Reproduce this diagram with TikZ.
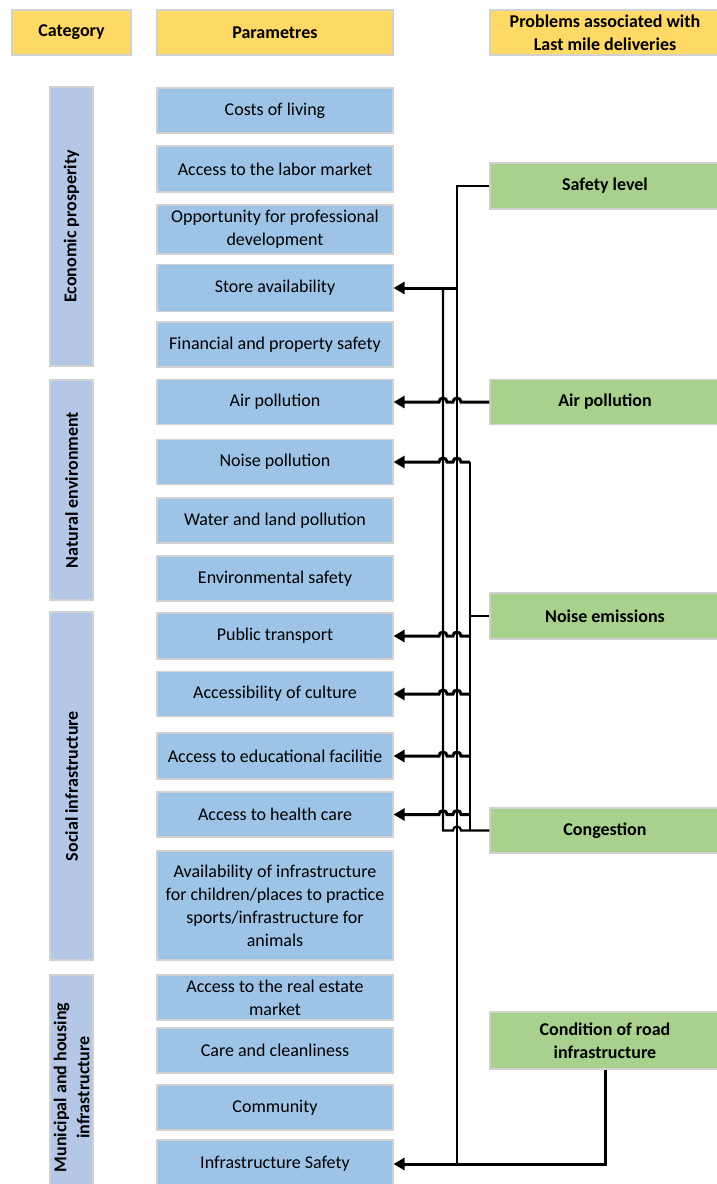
\documentclass[tikz,border=0pt]{standalone}
\usepackage{fontspec}
\setmainfont{Carlito}
\usepackage{xcolor}
\usepackage{tikz}
\usetikzlibrary{arrows.meta,calc}

\definecolor{headyellow}{HTML}{FFD966}
\definecolor{parblue}{HTML}{9DC3E6}
\definecolor{catviolet}{HTML}{B4C7E7}
\definecolor{probgreen}{HTML}{A9D18E}

\begin{document}
\begin{tikzpicture}[x=1pt,y=-1pt,
    font=\fontsize{18}{23}\selectfont,
    box/.style={draw=black!18, line width=1.2pt, inner sep=2pt, align=center},
    head/.style={box, fill=headyellow, font=\fontsize{18}{23}\selectfont\bfseries, minimum height=45},
    catbox/.style={box, fill=catviolet, rotate=90, minimum height=43, font=\fontsize{18}{23}\selectfont\bfseries},
    parbox/.style={box, fill=parblue, minimum width=236},
    probbox/.style={box, fill=probgreen, minimum width=230, font=\fontsize{18}{23}\selectfont\bfseries},
    bus/.style={line width=2.2pt},
    feed/.style={line width=3pt, -{Triangle[length=11pt,width=12pt]}}
    ]
    \useasboundingbox (0,0) rectangle (717,1184);

    % headers
    \node[head, minimum width=119] (hcat) at (71.5,32.5) {Category};
    \node[head, minimum width=236] (hpar) at (275,32.5) {Parametres};
    \node[head, minimum width=230] (hprob) at (605,32.5) {Problems associated with\\Last mile deliveries};

    % categories
    \node[catbox, minimum width=279] (econ) at (71.5,226.5) {Economic prosperity};
    \node[catbox, minimum width=220] (nature) at (71.5,490) {Natural environment};
    \node[catbox, minimum width=348] (social) at (71.5,786) {Social infrastructure};
    \node[catbox, minimum width=225] (munic) at (71.5,1087.5) {Municipal and housing\\infrastructure};

    % parametres
    \node[parbox, minimum height=45] (costs) at (275,110.5) {Costs of living};
    \node[parbox, minimum height=46] (labor) at (275,169) {Access to the labor market};
    \node[parbox, minimum height=49] (career) at (275,229.5) {Opportunity for professional\\development};
    \node[parbox, minimum height=47] (store) at (275,288) {Store availability};
    \node[parbox, minimum height=45] (finance) at (275,344.5) {Financial and property safety};
    \node[parbox, minimum height=45] (airpar) at (275,402) {Air pollution};
    \node[parbox, minimum height=45] (noisepar) at (275,462) {Noise pollution};
    \node[parbox, minimum height=45] (water) at (275,520.5) {Water and land pollution};
    \node[parbox, minimum height=45] (envsafe) at (275,578.5) {Environmental safety};
    \node[parbox, minimum height=46] (transport) at (275,636) {Public transport};
    \node[parbox, minimum height=45] (culture) at (275,694) {Accessibility of culture};
    \node[parbox, minimum height=46] (educ) at (275,756) {Access to educational facilitie};
    \node[parbox, minimum height=45] (health) at (275,814.5) {Access to health care};
    \node[parbox, minimum height=109] (kids) at (275,905.5) {Availability of infrastructure\\for children/places to practice\\sports/infrastructure for\\animals};
    \node[parbox, minimum height=45] (estate) at (275,997.5) {Access to the real estate\\market};
    \node[parbox, minimum height=45] (clean) at (275,1050.5) {Care and cleanliness};
    \node[parbox, minimum height=45] (commun) at (275,1107.5) {Community};
    \node[parbox, minimum height=48] (infsafe) at (275,1164) {Infrastructure Safety};

    % problems
    \node[probbox, minimum height=46] (safety) at (605,186) {Safety level};
    \node[probbox, minimum height=45] (airprob) at (605,402) {Air pollution};
    \node[probbox, minimum height=46] (noiseprob) at (605,616) {Noise emissions};
    \node[probbox, minimum height=45] (congest) at (605,830.5) {Congestion};
    \node[probbox, minimum height=57] (road) at (605,1040.5) {Condition of road\\infrastructure};

    % bus lines
    \coordinate (busB) at (443,0);
    \coordinate (busA) at (457,0);
    \coordinate (busC) at (470,0);

    \draw[bus] (safety.west) -| (infsafe.east -| busA);
    \draw[feed] (store.east -| busA) -- (store.east);
    \draw[bus] (congest.west) -- ($(congest.west -| busA)+(4pt,0)$)
      arc[start angle=0, end angle=180, radius=4pt] -- (congest.west -| busB) -- (store.east -| busB);
    \draw[feed] (airprob.west) -- ($(airprob.west -| busA)+(4pt,0)$)
      arc[start angle=0, end angle=180, radius=4pt] -- ($(airprob.west -| busB)+(4pt,0)$)
      arc[start angle=0, end angle=180, radius=4pt] -- (airpar.east);
    \draw[bus] (noiseprob.west) -- (noiseprob.west -| busC);
    \draw[bus] (noisepar.east -| busC) -- (congest.west -| busC);
    \foreach \p in {noisepar, transport, culture, educ, health}
      \draw[feed] (\p.east -| busC) -- ($(\p.east -| busA)+(4pt,0)$)
        arc[start angle=0, end angle=180, radius=4pt] -- ($(\p.east -| busB)+(4pt,0)$)
        arc[start angle=0, end angle=180, radius=4pt] -- (\p.east);
    \draw[feed] (road.south) |- (infsafe.east);
  \end{tikzpicture}
\end{document}
